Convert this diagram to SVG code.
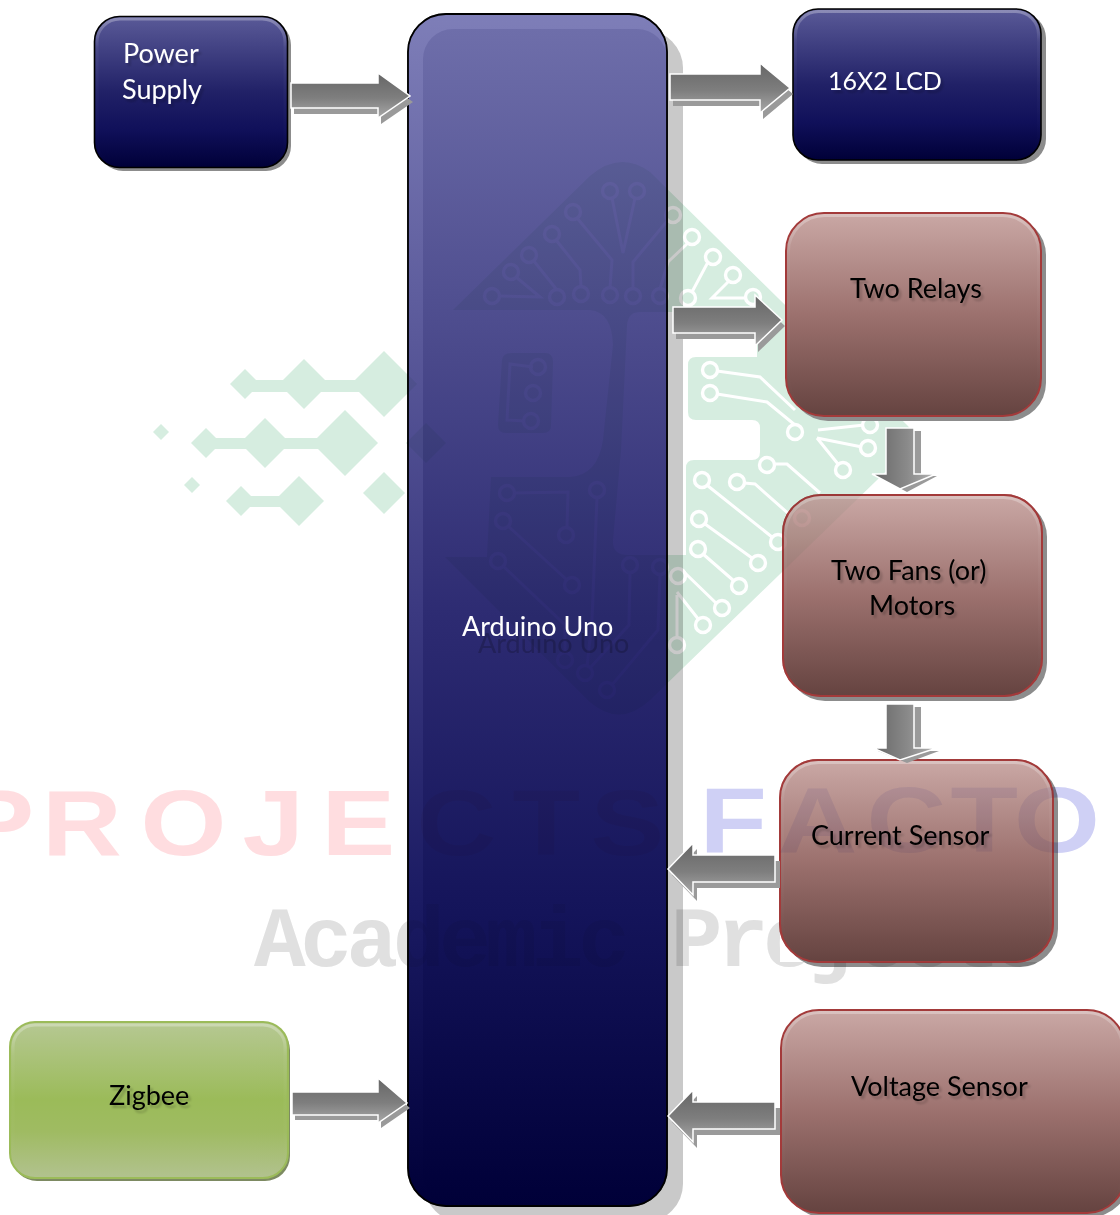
<svg xmlns="http://www.w3.org/2000/svg" width="1120" height="1215" viewBox="0 0 1120 1215">
<style>
text{font-family:"Lato","Carlito","Noto Sans",sans-serif;font-size:27px}
.w{fill:#fff;filter:url(#ts)}
.k{fill:#000;filter:url(#ts)}
.m{mix-blend-mode:multiply}
.sh{fill:#8c8c8c}
.navy{fill:url(#navy);stroke:#000;stroke-width:1.6}
.brown{fill:url(#brown);stroke:#a33a3a;stroke-width:2}
.bev{fill:none;stroke:url(#bev);stroke-width:3}
.arr{fill:url(#ah);stroke:#fff;stroke-width:1.5}
.arv{fill:url(#av);stroke:#fff;stroke-width:1.5}
.as{fill:#9a9a9a}
.gw{fill:#d6ede0}
.t{fill:none;stroke:#fff;stroke-width:3}
.c{fill:none;stroke:#fff;stroke-width:3.4}
.wm{font-family:"Liberation Sans",sans-serif;font-weight:bold;font-size:92px}
</style>
<defs>
<linearGradient id="navy" x1="0" y1="0" x2="0" y2="1"><stop offset="0" stop-color="#5a5a98"/><stop offset=".5" stop-color="#212167"/><stop offset=".75" stop-color="#10105a"/><stop offset="1" stop-color="#000038"/></linearGradient>
<linearGradient id="arduino" x1="0" y1="0" x2="0" y2="1"><stop offset="0" stop-color="#6e6eaa"/><stop offset=".5" stop-color="#2d2b72"/><stop offset=".75" stop-color="#14145a"/><stop offset="1" stop-color="#000038"/></linearGradient>
<linearGradient id="arduinoB" x1="0" y1="0" x2="0" y2="1"><stop offset="0" stop-color="#7e7eb8"/><stop offset=".5" stop-color="#3b3980"/><stop offset=".75" stop-color="#1a1a62"/><stop offset="1" stop-color="#000038"/></linearGradient>
<linearGradient id="brown" x1="0" y1="0" x2="0" y2="1"><stop offset="0" stop-color="#caa8a5"/><stop offset=".5" stop-color="#9c716e"/><stop offset="1" stop-color="#654340"/></linearGradient>
<linearGradient id="green" x1="0" y1="0" x2="0" y2="1"><stop offset="0" stop-color="#b6c893"/><stop offset=".5" stop-color="#9bbb59"/><stop offset=".7" stop-color="#9fbb62"/><stop offset="1" stop-color="#b2c28f"/></linearGradient>
<linearGradient id="bev" x1="0" y1="0" x2="0" y2="1"><stop offset="0" stop-color="#fff" stop-opacity=".3"/><stop offset=".2" stop-color="#fff" stop-opacity=".04"/><stop offset="1" stop-color="#fff" stop-opacity="0"/></linearGradient>
<linearGradient id="ah" x1="0" y1="0" x2="0" y2="1"><stop offset="0" stop-color="#666"/><stop offset=".55" stop-color="#7e7e7e"/><stop offset="1" stop-color="#a8a8a8"/></linearGradient>
<linearGradient id="av" x1="0" y1="0" x2="1" y2="0"><stop offset="0" stop-color="#666"/><stop offset=".55" stop-color="#8a8a8a"/><stop offset="1" stop-color="#b4b4b4"/></linearGradient>
<filter id="ts" x="-10%" y="-30%" width="130%" height="170%"><feDropShadow dx="2.5" dy="3" stdDeviation="1" flood-color="#000" flood-opacity=".2"/></filter>
<filter id="ghost" x="-10%" y="-30%" width="130%" height="220%"><feDropShadow dx="16" dy="17" stdDeviation=".7" flood-color="#000" flood-opacity=".2"/></filter>
<clipPath id="ardc"><rect x="408" y="14" width="259" height="1192" rx="38"/></clipPath>
<clipPath id="acad"><rect x="200" y="880" width="580" height="120"/><rect x="780" y="962" width="300" height="40"/></clipPath>
</defs>
<rect width="1120" height="1215" fill="#fff"/>

<g id="watermark">
<g class="gw">
<path d="M230,384L245,369L260,384L245,399Z"/><path d="M279,384L304,359L329,384L304,409Z"/><path d="M351,384L384,351L417,384L384,417Z"/><rect x="250" y="380" width="120" height="12"/>
<path d="M191,443L206,428L221,443L206,458Z"/><path d="M240,443L265,418L290,443L265,468Z"/><path d="M312,443L345,410L378,443L345,476Z"/><rect x="212" y="438" width="120" height="11"/>
<path d="M226,501L241,486L256,501L241,516Z"/><path d="M274,501L299,476L324,501L299,526Z"/><rect x="246" y="496" width="40" height="11"/>
<path d="M363,493L384,472L405,493L384,514Z"/>
<path d="M406,443L426,423L446,443L426,463Z"/>
<path d="M153,432L161,424L169,432L161,440Z"/>
<path d="M184,485L192,477L200,485L192,493Z"/>
<path d="M453,310L590,176Q620,150 650,172L908,426Q918,438 908,450L650,700Q620,728 590,702L445,557H487L491,477H570Q598,475 603,440L613,345Q612,312 590,310Z"/>
<path d="M512,353H545Q553,353 553,362L551,425Q551,433 543,433H506Q498,433 498,425L502,360Q503,353 512,353Z"/>
</g>
<path fill="#fff" d="M640,312H757V357H696Q688,357 688,365V412Q688,420 696,420H752Q760,420 760,428V452Q760,460 752,460H694Q686,460 686,468V555H628Q612,555 613,540L621,450L627,325Q628,312 640,312Z"/>
<g class="t">
<path d="M499,296L540,297L516,277M533,260L557,290M556,240L580,270L581,287M577,218L612,260L610,288M612,198L623,253L635,198M633,289V262L668,220"/>
<path d="M692,292L708,262M688,243L668,262L660,289M729,281L712,298H747"/>
<path d="M717,371L760,377L795,410M717,394L767,402L795,425M817,438L862,447M817,438L838,464M818,430L864,425"/>
<path d="M708,486L772,537M744,483L755,484L790,515M774,464H787L820,493M705,524L752,558M703,554L734,581M684,572L717,604M677,592L699,620M677,595V638"/>
<path d="M514,493L568,492L567,528M508,526L567,580M503,566L565,625V653M597,497L592,620L587,667M630,572L629,625L590,668M660,574L658,630L612,685"/>
<path d="M533,367L510,364L507,420L525,421"/>
</g>
<g class="c">
<circle cx="492" cy="296" r="7.500"/><circle cx="511" cy="272" r="7.500"/><circle cx="529" cy="255" r="7.500"/><circle cx="552" cy="234" r="7.500"/><circle cx="573" cy="212" r="7.500"/><circle cx="610" cy="191" r="7.500"/><circle cx="637" cy="191" r="7.500"/><circle cx="557" cy="297" r="7.500"/><circle cx="581" cy="294" r="7.500"/><circle cx="610" cy="295" r="7.500"/><circle cx="633" cy="296" r="7.500"/><circle cx="660" cy="296" r="7.500"/>
<circle cx="673" cy="215" r="7.500"/><circle cx="692" cy="237" r="7.500"/><circle cx="713" cy="257" r="7.500"/><circle cx="733" cy="275" r="7.500"/><circle cx="688" cy="298" r="7.500"/><circle cx="753" cy="297" r="7.500"/>
<circle cx="710" cy="370" r="7.500"/><circle cx="710" cy="393" r="7.500"/><circle cx="795" cy="432" r="7.500"/><circle cx="868" cy="448" r="7.500"/><circle cx="843" cy="470" r="7.500"/><circle cx="870" cy="425" r="7.500"/>
<circle cx="702" cy="480" r="7.500"/><circle cx="737" cy="482" r="7.500"/><circle cx="767" cy="465" r="7.500"/><circle cx="699" cy="519" r="7.500"/><circle cx="758" cy="563" r="7.500"/><circle cx="698" cy="549" r="7.500"/><circle cx="739" cy="586" r="7.500"/><circle cx="722" cy="608" r="7.500"/><circle cx="703" cy="625" r="7.500"/><circle cx="678" cy="576" r="7.500"/><circle cx="677" cy="645" r="7.500"/><circle cx="778" cy="542" r="7.500"/><circle cx="802" cy="518" r="7.500"/>
<circle cx="507" cy="493" r="7.500"/><circle cx="566" cy="535" r="7.500"/><circle cx="503" cy="521" r="7.500"/><circle cx="572" cy="585" r="7.500"/><circle cx="498" cy="561" r="7.500"/><circle cx="597" cy="490" r="7.500"/><circle cx="630" cy="565" r="7.500"/><circle cx="660" cy="567" r="7.500"/><circle cx="565" cy="660" r="7.500"/><circle cx="585" cy="673" r="7.500"/><circle cx="607" cy="690" r="7.500"/>
<circle cx="538" cy="367" r="7.500"/><circle cx="533" cy="393" r="7.500"/><circle cx="531" cy="421" r="7.500"/>
</g>
<text class="wm" y="855" fill="#ffdde0" transform="scale(1.2 1)" x="-33 35 117 202 268 347 427 492">PROJECTS</text>
<text class="wm" y="852" fill="#cfd0f5" transform="scale(1.2 1)" x="583 648 722 792 845">FACTO</text>
<text y="966" fill="#e0e0e0" clip-path="url(#acad)" style="font-family:'Liberation Mono',monospace;font-weight:bold;font-size:86px;letter-spacing:-5.3px" x="254">Academic Projects</text>
</g>

<g id="node-power"><g class="m"><rect class="sh" x="98" y="20" width="193" height="151" rx="25"/><rect class="navy" x="94.500" y="16.500" width="193" height="151" rx="25"/><rect class="bev" x="97" y="19" width="188" height="146" rx="23"/></g>
<text class="w" x="123" y="63">Power</text><text class="w" x="122" y="99">Supply</text></g>

<g id="node-arduino"><g class="m"><rect x="424" y="30" width="259" height="1192" rx="38" fill="#c9c9c9"/>
<g id="s-arduino"><rect x="408" y="14" width="259" height="1192" rx="38" fill="url(#arduinoB)"/>
<rect x="423" y="29" width="244" height="1177" rx="30" fill="url(#arduino)" clip-path="url(#ardc)"/>
<rect x="408" y="14" width="259" height="1192" rx="38" fill="none" stroke="#000" stroke-width="1.8"/></g></g>
<use href="#s-arduino" opacity=".55"/>
<text x="462" y="636" fill="#fff" filter="url(#ghost)">Arduino Uno</text></g>

<g id="node-lcd"><g class="m"><rect class="sh" x="797" y="13" width="249" height="151" rx="25"/><rect class="navy" x="793" y="9" width="248" height="151" rx="25"/><rect class="bev" x="795.500" y="11.500" width="243" height="146" rx="23"/></g>
<text class="w" x="828" y="90" style="font-size:25px">16X2 LCD</text></g>

<g id="node-relays"><rect class="sh" x="790" y="217" width="256" height="204" rx="38"/><rect class="brown" x="786" y="213" width="255" height="203" rx="38"/><rect class="bev" x="788.500" y="215.500" width="250" height="198" rx="36"/>
<text class="k" x="850" y="298">Two Relays</text></g>

<g id="node-fans"><g class="m"><rect class="sh" x="787" y="499" width="260" height="202" rx="38"/><g id="s-fans"><rect class="brown" x="783" y="495" width="259" height="201" rx="38"/><rect class="bev" x="785.500" y="497.500" width="254" height="196" rx="36"/></g></g>
<use href="#s-fans" opacity=".7"/>
<text class="k" x="831" y="580">Two Fans (or)</text><text class="k" x="869" y="615">Motors</text></g>

<g id="node-current"><g class="m"><rect class="sh" x="784" y="764" width="274" height="203" rx="38"/><g id="s-current"><rect class="brown" x="780" y="760" width="273" height="202" rx="38"/><rect class="bev" x="782.500" y="762.500" width="268" height="197" rx="36"/></g></g>
<use href="#s-current" opacity=".6"/>
<text class="k" x="811" y="845">Current Sensor</text></g>

<g id="node-voltage"><g class="m"><rect class="sh" x="785" y="1014" width="344" height="203" rx="38"/><rect class="brown" x="781" y="1010" width="344" height="203" rx="38"/><rect class="bev" x="783.500" y="1012.500" width="339" height="198" rx="36"/></g>
<text class="k" x="851" y="1096">Voltage Sensor</text></g>

<g id="node-zigbee"><g class="m"><rect x="12" y="1025" width="278" height="156" rx="25" fill="#7d8a62"/><rect x="10" y="1022" width="278" height="156" rx="25" fill="url(#green)" stroke="#9bbb59" stroke-width="2"/><rect class="bev" x="13" y="1025" width="272" height="150" rx="22"/></g>
<text class="k" x="109" y="1105">Zigbee</text></g>

<g id="connectors">
<path class="as" d="M294,89H381V79L413,102L381,124V114H294Z"/><path class="arr" d="M291,83H378V73L410,96L378,118V108H291Z"/>
<path class="as" d="M673,80H763V69L793,94L763,119V106H673Z"/><path class="arr" d="M670,74H760V63L790,88L760,113V100H670Z"/>
<path class="as" d="M676,313H758V301L785,326L758,352V339H676Z"/><path class="arr" d="M673,307H755V295L782,320L755,346V333H673Z"/>
<path class="as" d="M893,431H921V476H937L907,492L877,476H893Z"/><path class="arv" d="M886,428H914V474H936L900,489L872,474H886Z"/>
<path class="as" d="M893,707H921V751H939L907,763L878,751H893Z"/><path class="arv" d="M886,704H914V748H937L900,760L873,748H886Z"/>
<path class="as" d="M672,875L697,849V861H780V888H697V901Z"/><path class="arr" d="M668,869L693,843V855H775V882H693V895Z"/>
<path class="as" d="M672,1122L697,1096V1108H780V1135H697V1148Z"/><path class="arr" d="M668,1116L693,1090V1102H775V1129H693V1142Z"/>
<path class="as" d="M295,1097H381V1084L410,1108L381,1128V1120H295Z"/><path class="arr" d="M292,1092H378V1078L407,1103L378,1123V1115H292Z"/>
</g>
</svg>
